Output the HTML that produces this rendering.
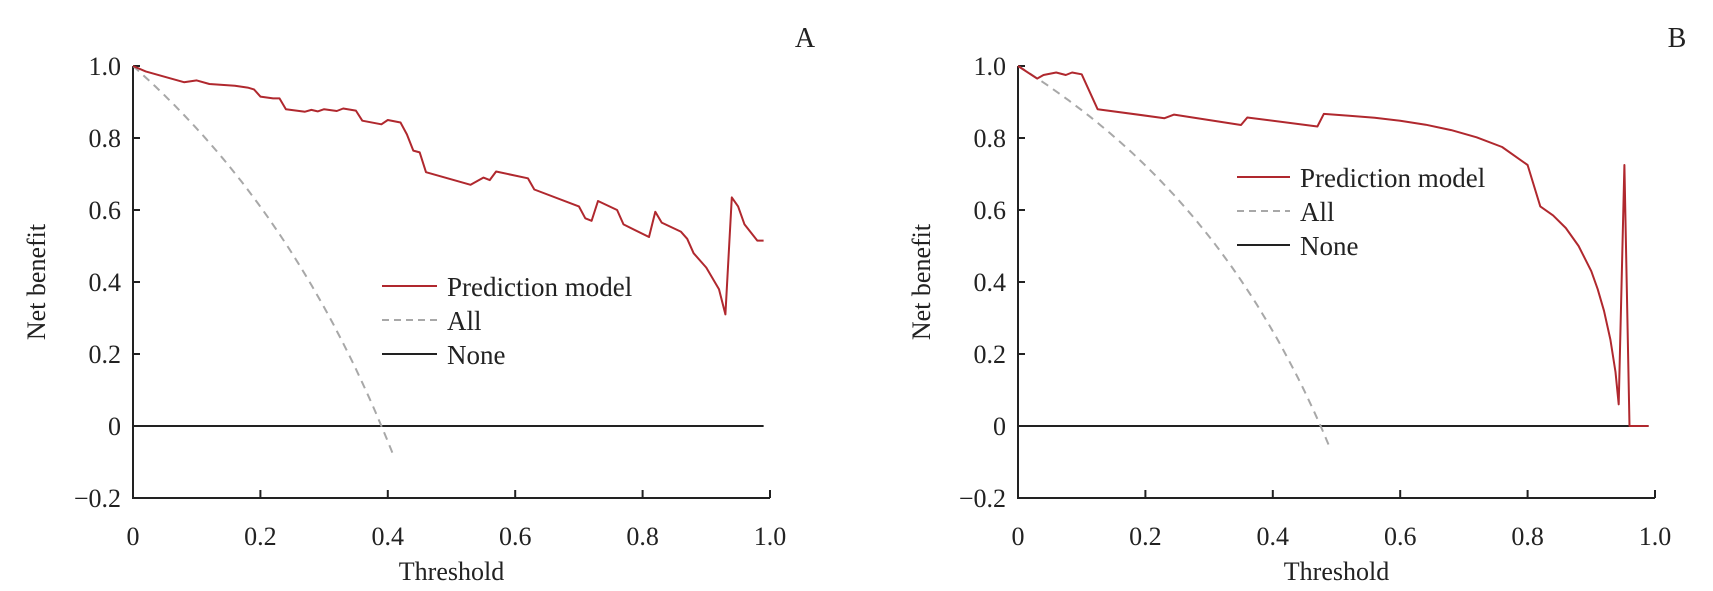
<!DOCTYPE html>
<html><head><meta charset="utf-8"><style>
html,body{margin:0;padding:0;background:#fff;}
svg{display:block;font-family:"Liberation Serif",serif;}
</style></head><body>
<svg id="s" width="1713" height="591" xmlns="http://www.w3.org/2000/svg"></svg>
<script>
const s=document.getElementById('s');let h='';
const Y0=426,SY=360,SX=637;
function panel(x0,label,lx,dataM,p,tEnd,leg){
  const X=t=>x0+t*SX, Y=v=>Y0-v*SY;
  h+=`<line x1="${x0}" y1="${Y(1)}" x2="${x0}" y2="${Y(-0.2)+1}" stroke="#222" stroke-width="2"/>`;
  h+=`<line x1="${x0-1}" y1="${Y(-0.2)}" x2="${X(1)}" y2="${Y(-0.2)}" stroke="#222" stroke-width="2"/>`;
  [1,0.8,0.6,0.4,0.2,0,-0.2].forEach(v=>{
    h+=`<line x1="${x0}" y1="${Y(v)}" x2="${x0+7}" y2="${Y(v)}" stroke="#222" stroke-width="2"/>`;
    const tx=v==0?'0':(v<0?'−0.2':v.toFixed(1));
    h+=`<text x="${x0-12}" y="${Y(v)+9}" font-size="26" text-anchor="end" fill="#222">${tx}</text>`;
  });
  [0,0.2,0.4,0.6,0.8,1].forEach(t=>{
    if(t>0)h+=`<line x1="${X(t)}" y1="${Y(-0.2)}" x2="${X(t)}" y2="${Y(-0.2)-8}" stroke="#222" stroke-width="2"/>`;
    h+=`<text x="${X(t)}" y="545" font-size="26" text-anchor="middle" fill="#222">${t==0?'0':t.toFixed(1)}</text>`;
  });
  h+=`<text x="${X(0.5)}" y="580" font-size="26" text-anchor="middle" fill="#222">Threshold</text>`;
  h+=`<text transform="translate(${x0-88},${Y(0.4)}) rotate(-90)" font-size="26" text-anchor="middle" fill="#222">Net benefit</text>`;
  h+=`<text x="${lx}" y="47" font-size="28" text-anchor="middle" fill="#222">${label}</text>`;
  h+=`<line x1="${x0}" y1="${Y(0)}" x2="${X(0.99)}" y2="${Y(0)}" stroke="#222" stroke-width="2"/>`;
  let pts=[];for(let t=0;t<=tEnd+1e-9;t+=0.005){const v=1-(1-p)/p*t/(1-t);pts.push(X(t).toFixed(1)+','+Y(v).toFixed(1));}
  h+=`<polyline points="${pts.join(' ')}" fill="none" stroke="#a8a8a8" stroke-width="2" stroke-dasharray="8,6"/>`;
  h+=`<polyline points="${dataM.map(d=>X(d[0]).toFixed(1)+','+Y(d[1]).toFixed(1)).join(' ')}" fill="none" stroke="#b0282e" stroke-width="2" stroke-linejoin="round"/>`;
  const [a,b,ly]=leg;
  h+=`<line x1="${a}" y1="${ly}" x2="${b}" y2="${ly}" stroke="#b0282e" stroke-width="2"/>`;
  h+=`<line x1="${a}" y1="${ly+34}" x2="${b}" y2="${ly+34}" stroke="#a8a8a8" stroke-width="2" stroke-dasharray="7,5"/>`;
  h+=`<line x1="${a}" y1="${ly+68}" x2="${b}" y2="${ly+68}" stroke="#222" stroke-width="2"/>`;
  ['Prediction model','All','None'].forEach((t,i)=>h+=`<text x="${b+10}" y="${ly+10+i*34}" font-size="27" fill="#222">${t}</text>`);
}
const A=[[0,1],[0.02,0.985],[0.05,0.97],[0.08,0.955],[0.1,0.96],[0.12,0.95],[0.16,0.945],[0.18,0.94],[0.19,0.935],[0.2,0.915],[0.22,0.91],[0.23,0.91],[0.24,0.88],[0.27,0.873],[0.28,0.878],[0.29,0.874],[0.3,0.88],[0.32,0.875],[0.33,0.882],[0.35,0.876],[0.36,0.848],[0.39,0.838],[0.4,0.85],[0.42,0.843],[0.43,0.81],[0.44,0.765],[0.45,0.76],[0.46,0.705],[0.53,0.67],[0.55,0.69],[0.56,0.683],[0.57,0.707],[0.62,0.688],[0.63,0.657],[0.7,0.61],[0.71,0.577],[0.72,0.57],[0.73,0.625],[0.76,0.6],[0.77,0.56],[0.81,0.525],[0.82,0.595],[0.83,0.565],[0.86,0.54],[0.87,0.52],[0.88,0.48],[0.9,0.44],[0.92,0.38],[0.93,0.31],[0.94,0.635],[0.95,0.61],[0.96,0.56],[0.98,0.515],[0.99,0.515]];
const B=[[0,1],[0.03,0.965],[0.04,0.975],[0.06,0.982],[0.075,0.975],[0.085,0.982],[0.1,0.977],[0.125,0.88],[0.23,0.855],[0.245,0.865],[0.35,0.836],[0.36,0.857],[0.47,0.832],[0.48,0.867],[0.52,0.862],[0.56,0.856],[0.6,0.848],[0.64,0.837],[0.68,0.822],[0.72,0.802],[0.76,0.775],[0.8,0.725],[0.82,0.61],[0.84,0.585],[0.86,0.55],[0.88,0.5],[0.9,0.43],[0.91,0.38],[0.92,0.32],[0.93,0.24],[0.938,0.15],[0.943,0.06],[0.952,0.725],[0.96,0],[0.99,0]];
panel(133,'A',805,A,0.39,0.41,[382,437,286]);
panel(1018,'B',1677,B,0.475,0.49,[1237,1290,177]);
s.innerHTML=h;
</script>
</body></html>
